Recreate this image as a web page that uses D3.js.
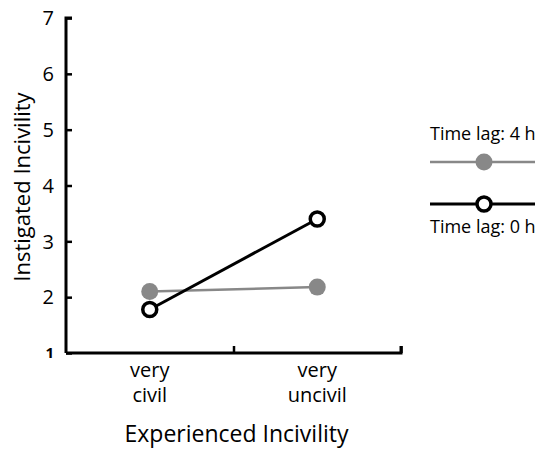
<!DOCTYPE html>
<html><head><meta charset="utf-8">
<script src="https://cdn.jsdelivr.net/npm/d3@7"></script>
<style>body{margin:0;background:#fff}</style>
</head><body>
<svg id="c" width="535" height="450"></svg>
<script>
const categories = [["very","civil"],["very","uncivil"]];
const seriesNames = ["Time lag: 4 h","Time lag: 0 h"];
const lag4 = [2.1, 2.18];
const lag0 = [1.78, 3.4];
const yTicks = [1,2,3,4,5,6,7];

const svg = d3.select("#c");
const font = "'Open Sans', sans-serif";
const x0 = 66, x1 = 401, yTop = 18, yBot = 353;
const y = d3.scaleLinear().domain([1,7]).range([yBot,yTop]);
const x = d3.scaleLinear().domain([0,4]).range([x0,x1]);
const catPos = [1,3];

// y axis
const ya = svg.append("g").attr("transform",`translate(${x0},0)`)
  .call(d3.axisRight(y).tickValues(yTicks).tickSize(6).tickFormat(""));
ya.select(".domain").attr("stroke","#000").attr("stroke-width",3).attr("d",`M6,${yTop}H0V${yBot}`);
ya.selectAll(".tick line").attr("stroke","#000").attr("stroke-width",2.5);
yTicks.forEach(v=>{
  svg.append("text").attr("x",x0-12).attr("y",y(v)).attr("dy","0.36em")
    .attr("text-anchor","end").attr("font-family",font).attr("font-size",v===1?15:20)
    .attr("font-weight",v===1?700:400).text(v);
});

// x axis
const xa = svg.append("g").attr("transform",`translate(0,${yBot})`)
  .call(d3.axisTop(x).tickValues([2,4]).tickSize(7).tickFormat(""));
xa.select(".domain").attr("stroke","#000").attr("stroke-width",3).attr("d",`M${x0},0H${x1}V-7`);
xa.selectAll(".tick line").attr("stroke","#000").attr("stroke-width",2.5);
categories.forEach((c,i)=>{
  const t = svg.append("text").attr("x",x(catPos[i])).attr("text-anchor","middle")
    .attr("font-family",font).attr("font-size",20);
  t.append("tspan").attr("x",x(catPos[i])).attr("y",377).text(c[0]);
  t.append("tspan").attr("x",x(catPos[i])).attr("y",402).text(c[1]);
});
svg.append("text").attr("x",(x0+x1)/2+3).attr("y",442).attr("text-anchor","middle")
  .attr("font-family",font).attr("font-size",23).text("Experienced Incivility");
svg.append("text").attr("transform",`translate(30,${187}) rotate(-90)`)
  .attr("text-anchor","middle").attr("font-family",font).attr("font-size",22).text("Instigated Incivility");

const line = d3.line().x((d,i)=>x(catPos[i])).y(d=>y(d));
svg.append("path").datum(lag4).attr("d",line).attr("fill","none").attr("stroke","#888").attr("stroke-width",2.5);
svg.append("path").datum(lag0).attr("d",line).attr("fill","none").attr("stroke","#000").attr("stroke-width",3);
svg.selectAll(".g4").data(lag4).enter().append("circle").attr("cx",(d,i)=>x(catPos[i])).attr("cy",d=>y(d))
  .attr("r",8.5).attr("fill","#888");
svg.selectAll(".g0").data(lag0).enter().append("circle").attr("cx",(d,i)=>x(catPos[i])).attr("cy",d=>y(d))
  .attr("r",7).attr("fill","#fff").attr("stroke","#000").attr("stroke-width",3.5);

// legend
svg.append("text").attr("x",430).attr("y",140).attr("font-family",font).attr("font-size",18).text(seriesNames[0]);
svg.append("line").attr("x1",430).attr("x2",540).attr("y1",162).attr("y2",162).attr("stroke","#888").attr("stroke-width",2.5);
svg.append("circle").attr("cx",484).attr("cy",162).attr("r",8.5).attr("fill","#888");
svg.append("line").attr("x1",430).attr("x2",540).attr("y1",204).attr("y2",204).attr("stroke","#000").attr("stroke-width",3);
svg.append("circle").attr("cx",484).attr("cy",204).attr("r",7).attr("fill","#fff").attr("stroke","#000").attr("stroke-width",3.5);
svg.append("text").attr("x",430).attr("y",233).attr("font-family",font).attr("font-size",18).text(seriesNames[1]);
</script>
</body></html>
